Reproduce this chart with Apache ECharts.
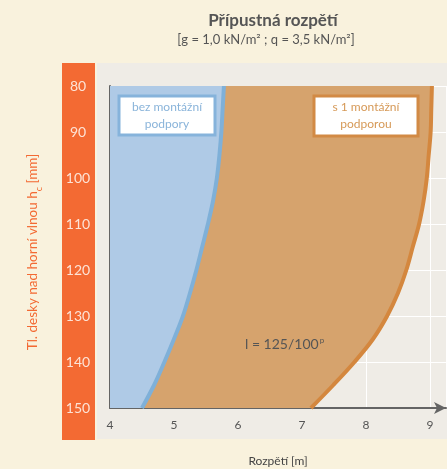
<!DOCTYPE html>
<html>
<head>
<meta charset="utf-8">
<script src="https://cdn.jsdelivr.net/npm/echarts@6/dist/echarts.min.js"></script>
<style>
html,body{margin:0;padding:0;background:#f9f2dd;}
#c{width:447px;height:469px;}
</style>
</head>
<body>
<div id="c"></div>
<script>
// thickness above top flange (mm) — category axis
const thickness = ['80','85','90','95','100','105','110','115','120','125','130','135','140','145','150'];
// permissible span without temporary support (m)
const spanNoSupport = [5.78,5.76,5.74,5.71,5.67,5.61,5.53,5.44,5.35,5.25,5.14,5.00,4.85,4.69,4.50];
// permissible span with 1 temporary support (m)
const spanOneSupport = [9.03,9.02,9.01,8.98,8.95,8.90,8.83,8.73,8.63,8.50,8.33,8.11,7.82,7.49,7.14];
const xTicks = [4,5,6,7,8,9];

const FONT = 'Lato, "Open Sans", sans-serif';
const chart = echarts.init(document.getElementById('c'));
chart.setOption({
  backgroundColor: '#f9f2dd',
  animation: false,
  textStyle: {fontFamily: FONT},
  grid: {left: 110, top: 86, width: 336, height: 322, containLabel: false, outerBoundsMode: 'none'},
  graphic: [
    {type:'rect', z:-10, shape:{x:97,y:63,width:350,height:376}, style:{fill:'#efece6'}},
    {type:'rect', z:-10, shape:{x:62,y:63,width:33,height:377}, style:{fill:'#f36a33'}},
    {type:'text', style:{text:'Přípustná rozpětí', x:273, y:21, textAlign:'center', textVerticalAlign:'middle', font:'bold 17px '+FONT, fill:'#555'}},
    {type:'text', style:{text:'[g = 1,0 kN/m² ; q = 3,5 kN/m²]', x:266, y:40, textAlign:'center', textVerticalAlign:'middle', font:'13px '+FONT, fill:'#555'}},
    {type:'rect', z:50, shape:{x:119,y:96,width:96,height:39}, style:{fill:'#fff', stroke:'#86b3db', lineWidth:3}},
    {type:'text', z:51, style:{text:'bez montážní\npodpory', x:167, y:115.5, textAlign:'center', textVerticalAlign:'middle', font:'12px '+FONT, fill:'#8ab4da', lineHeight:17}},
    {type:'rect', z:50, shape:{x:314,y:96,width:104,height:40}, style:{fill:'#fff', stroke:'#d28a45', lineWidth:3}},
    {type:'text', z:51, style:{text:'s 1 montážní\npodporou', x:366, y:116, textAlign:'center', textVerticalAlign:'middle', font:'12px '+FONT, fill:'#d69957', lineHeight:17}},
    {type:'text', z:51, style:{rich:{a:{fontSize:14, fill:'#555', fontFamily:FONT}, s:{fontSize:8, fill:'#555', fontFamily:FONT, verticalAlign:'top', padding:[0,0,7,1]}}, text:'{a|l = 125/100}{s|p}', x:245, y:344, textVerticalAlign:'middle'}}
  ],
  xAxis: {
    type: 'value', min: 4, max: 9.25, interval: 1,
    name: 'Rozpětí [m]', nameLocation: 'middle', nameGap: 47,
    nameTextStyle: {color:'#444', fontSize:12, fontFamily:FONT},
    axisLine: {show:true, symbol:['none','arrow'], symbolSize:[9,12], lineStyle:{color:'#646464', width:2}},
    axisTick: {show:false},
    axisLabel: {color:'#555', fontSize:12, margin:11, fontFamily:FONT,
      formatter: v => (xTicks.indexOf(v) >= 0 ? String(v) : '')},
    splitLine: {show:true, lineStyle:{color:'#ffffff', width:1}}
  },
  yAxis: {
    type: 'category', data: thickness, inverse: true, boundaryGap: false,
    name: '{m|Tl. desky nad horní vlnou h}{sub|c}{m| [mm]}', nameLocation: 'middle', nameGap: 66, nameRotate: 90,
    nameTextStyle: {color:'#f36a33', fontSize:13.5, fontFamily:FONT, padding:[0,10,0,0], lineHeight:22,
      rich:{m:{fontSize:13.5, color:'#f36a33', fontFamily:FONT, lineHeight:22, verticalAlign:'middle'},
            sub:{fontSize:9, color:'#f36a33', fontFamily:FONT, verticalAlign:'bottom', lineHeight:22, padding:[9,0,0,0]}}},
    axisLine: {show:true, lineStyle:{color:'#646464', width:2}},
    axisTick: {show:false},
    axisLabel: {interval:1, color:'#fde3d6', fontSize:14, margin:32, align:'center', fontFamily:FONT},
    splitLine: {show:true, interval:1, lineStyle:{color:'#ffffff', width:1}}
  },
  series: [
    {
      type:'line', name:'s 1 montážní podporou', data: spanOneSupport, smooth:0.35, symbol:'none', z:2,
      lineStyle:{color:'#d4873e', width:4},
      areaStyle:{color:'#d6a36d', opacity:1, origin:'start'}
    },
    {
      type:'line', name:'bez montážní podpory', data: spanNoSupport, smooth:0.35, symbol:'none', z:3,
      lineStyle:{color:'#7fb0d8', width:4},
      areaStyle:{color:'#afcae6', opacity:1, origin:'start'}
    }
  ]
});
</script>
</body>
</html>
